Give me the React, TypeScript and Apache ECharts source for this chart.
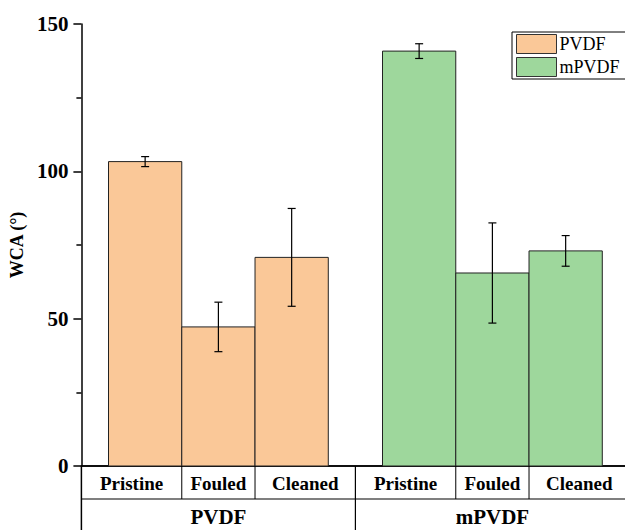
import React, { useEffect, useRef } from 'react';
import * as echarts from 'echarts';

const groups = ['PVDF', 'mPVDF'];
const conditions = ['Pristine', 'Fouled', 'Cleaned'];
const pvdfMeans = [103.3, 47.2, 70.8];
const pvdfErrors = [1.7, 8.4, 16.6];
const mpvdfMeans = [140.8, 65.5, 73.0];
const mpvdfErrors = [2.5, 17.0, 5.2];
const yMin = 0;
const yMax = 150;
const yInterval = 50;

const colors = ['#FAC898', '#9ED79C'];
const BAR = 1;
const PAD = 0.37;
const GROUP = 3 * BAR + 2 * PAD;
const XMAX = 7.42;
const ROW = 33;
const FONT = 'Liberation Serif';

export default function App() {
  const ref = useRef<HTMLDivElement>(null);
  useEffect(() => {
    document.body.style.margin = '0';
    const chart = echarts.init(ref.current!, null, { renderer: 'svg' });
    const means = [pvdfMeans, mpvdfMeans];
    const errs = [pvdfErrors, mpvdfErrors];

    const barSeries = groups.map((g, gi) => ({
      type: 'custom',
      name: g,
      clip: false,
      itemStyle: { color: colors[gi], borderColor: '#222', borderWidth: 1 },
      data: conditions.map((c, ci) => [gi * GROUP + PAD + ci * BAR, means[gi][ci], errs[gi][ci]]),
      renderItem: (params: any, api: any) => {
        const x0 = api.value(0);
        const v = api.value(1);
        const e = api.value(2);
        const p0 = api.coord([x0, 0]);
        const p1 = api.coord([x0 + BAR, v]);
        const hi = api.coord([x0 + BAR / 2, v + e]);
        const lo = api.coord([x0 + BAR / 2, v - e]);
        const cw = 4;
        return {
          type: 'group',
          children: [
            {
              type: 'rect',
              shape: { x: p0[0], y: p1[1], width: p1[0] - p0[0], height: p0[1] - p1[1] },
              style: { fill: colors[gi], stroke: '#222', lineWidth: 1 },
            },
            { type: 'line', shape: { x1: hi[0], y1: hi[1], x2: lo[0], y2: lo[1] }, style: { stroke: '#000', lineWidth: 1.2 } },
            { type: 'line', shape: { x1: hi[0] - cw, y1: hi[1], x2: hi[0] + cw, y2: hi[1] }, style: { stroke: '#000', lineWidth: 1.2 } },
            { type: 'line', shape: { x1: lo[0] - cw, y1: lo[1], x2: lo[0] + cw, y2: lo[1] }, style: { stroke: '#000', lineWidth: 1.2 } },
          ],
        };
      },
    }));

    const tableSeries = {
      type: 'custom',
      name: 'table',
      clip: false,
      silent: true,
      data: groups.map((g, gi) => [gi]),
      renderItem: (params: any, api: any) => {
        const gi = api.value(0);
        const gStart = gi * GROUP;
        const gEnd = (gi + 1) * GROUP;
        const base = api.coord([gStart, 0]);
        const endP = api.coord([gEnd, 0]);
        const y0 = base[1];
        const y1 = y0 + ROW;
        const y2 = y1 + 33;
        const children: any[] = [];
        children.push({ type: 'line', shape: { x1: base[0], y1: y1, x2: endP[0], y2: y1 }, style: { stroke: '#000', lineWidth: 1.2 } });
        children.push({ type: 'line', shape: { x1: endP[0], y1: y0, x2: endP[0], y2: y2 }, style: { stroke: '#000', lineWidth: 1.2 } });
        if (gi === 0) {
          children.push({ type: 'line', shape: { x1: base[0], y1: y0, x2: base[0], y2: y2 }, style: { stroke: '#000', lineWidth: 1.5 } });
        }
        conditions.forEach((c, ci) => {
          const left = ci === 0 ? gStart : gStart + PAD + ci * BAR;
          const right = ci === conditions.length - 1 ? gEnd : gStart + PAD + (ci + 1) * BAR;
          const l = api.coord([left, 0]);
          const r = api.coord([right, 0]);
          if (ci > 0) {
            children.push({ type: 'line', shape: { x1: l[0], y1: y0, x2: l[0], y2: y1 }, style: { stroke: '#000', lineWidth: 1 } });
          }
          children.push({
            type: 'text',
            style: {
              text: c, x: (l[0] + r[0]) / 2, y: (y0 + y1) / 2 + 1,
              align: 'center', verticalAlign: 'middle',
              fontFamily: FONT, fontWeight: 'bold', fontSize: 19, fill: '#000',
            },
          });
        });
        children.push({
          type: 'text',
          style: {
            text: groups[gi], x: (base[0] + endP[0]) / 2, y: (y1 + y2) / 2 + 1,
            align: 'center', verticalAlign: 'middle',
            fontFamily: FONT, fontWeight: 'bold', fontSize: 21, fill: '#000',
          },
        });
        return { type: 'group', children };
      },
    };

    chart.setOption({
      animation: false,
      textStyle: { fontFamily: FONT },
      grid: { left: 81, right: 0, top: 24, bottom: 64, containLabel: false },
      legend: {
        show: true,
        orient: 'vertical',
        left: 512,
        top: 32,
        padding: [2, 6, 2, 4],
        itemGap: 3,
        itemWidth: 40,
        itemHeight: 19,
        icon: 'rect',
        borderColor: '#000',
        borderWidth: 1,
        textStyle: { fontFamily: FONT, fontSize: 18, color: '#000', padding: [0, 0, 0, -2] },
        data: groups.map((g, gi) => ({
          name: g,
          itemStyle: { color: colors[gi], borderColor: '#333', borderWidth: 1 },
        })),
      },
      xAxis: [
        {
          type: 'value', min: 0, max: XMAX, position: 'bottom',
          axisLine: { show: true, onZero: false, lineStyle: { color: '#000', width: 1.5 } },
          axisTick: { show: false }, axisLabel: { show: false }, splitLine: { show: false },
        },
        {
          type: 'value', min: 0, max: XMAX, position: 'top',
          axisLine: { show: true, lineStyle: { color: '#000', width: 1.5 } },
          axisTick: { show: false }, axisLabel: { show: false }, splitLine: { show: false },
        },
      ],
      yAxis: {
        type: 'value', min: yMin, max: yMax, interval: yInterval,
        name: 'WCA (°)', nameLocation: 'middle', nameGap: 53,
        nameTextStyle: { fontFamily: FONT, fontWeight: 'bold', fontSize: 18, color: '#000' },
        axisLine: { show: true, lineStyle: { color: '#000', width: 1.5 } },
        axisTick: { show: true, inside: false, length: 8, lineStyle: { color: '#000', width: 1.5 } },
        minorTick: { show: true, splitNumber: 2, length: 5, lineStyle: { color: '#000', width: 1.5 } },
        axisLabel: { margin: 13, fontFamily: FONT, fontWeight: 'bold', fontSize: 21, color: '#000' },
        splitLine: { show: false },
      },
      series: [...barSeries, tableSeries],
    });
    return () => chart.dispose();
  }, []);
  return <div ref={ref} style={{ width: 625, height: 530 }} />;
}
